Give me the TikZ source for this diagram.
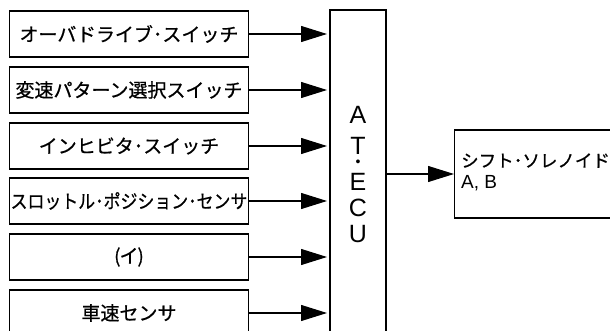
\documentclass[tikz,border=0pt]{standalone}
\usepackage{fontspec}
\setmainfont{Noto Sans CJK JP}[FakeBold=0.7]
\newfontfamily\latinsans{Liberation Sans}
\usetikzlibrary{arrows.meta}
\newcommand\ecurow[1]{\smash{#1}}
\begin{document}
\begin{tikzpicture}[x=1pt,y=-1pt,
  inbox/.style={draw, line width=1.1pt, minimum width=239pt, minimum height=46pt, inner sep=0pt, font=\fontsize{19}{21}\selectfont},
  sig/.style={line width=1.1pt, -{Triangle[length=26pt,width=16pt]}},
  ecutext/.style={font=\latinsans\fontsize{25}{26}\selectfont, inner sep=0pt, anchor=north}]
\useasboundingbox (0,0) rectangle (610,331);
\clip (0,0) rectangle (610,331);
\node[inbox] (b1) at (129,34) {オーバドライブ･スイッチ};
\node[inbox] (b2) at (129,90) {変速パターン選択スイッチ};
\node[inbox] (b3) at (129,146) {インヒビタ･スイッチ};
\node[inbox] (b4) at (129,201) {\makebox[0pt]{\scalebox{0.89}[1]{スロットル･ポジション･センサ}}};
\node[inbox] (b5) at (129,257) {(\kern-1pt イ\kern-1pt)};
\node[inbox] (b6) at (129,313) {車速センサ};
\draw[line width=1.1pt] (330,10) rectangle (386,360);
\node[ecutext] (ecu) at (358,123) {\vbox{\offinterlineskip\halign{\hfil#\hfil\cr
  \ecurow{A}\cr\noalign{\kern31pt}
  \ecurow{T}\cr\noalign{\kern12pt}
  \ecurow{\fontsize{14}{15}\selectfont •}\cr\noalign{\kern24pt}
  \ecurow{E}\cr\noalign{\kern26pt}
  \ecurow{C}\cr\noalign{\kern26pt}
  \ecurow{U}\cr}}};
\foreach \i/\y in {1/34,2/90,3/146,4/201,5/257,6/313} {
  \coordinate (t\i) at (327,\y);
  \draw[sig] (b\i.east |- t\i) -- (t\i);
}
\node[draw, line width=1.1pt, minimum width=170pt, minimum height=88pt, anchor=west] (sol) at (454,174) {};
\node[anchor=west, font=\fontsize{17.5}{19}\selectfont, align=left, inner sep=0pt] (soltext) at (461,172) {シフト･ソレノイド\\[2pt]{\latinsans\fontsize{19}{20}\selectfont A, B}};
\coordinate (ecuR) at (386,174);
\draw[sig] (ecuR) -- (sol.west);
\end{tikzpicture}
\end{document}
